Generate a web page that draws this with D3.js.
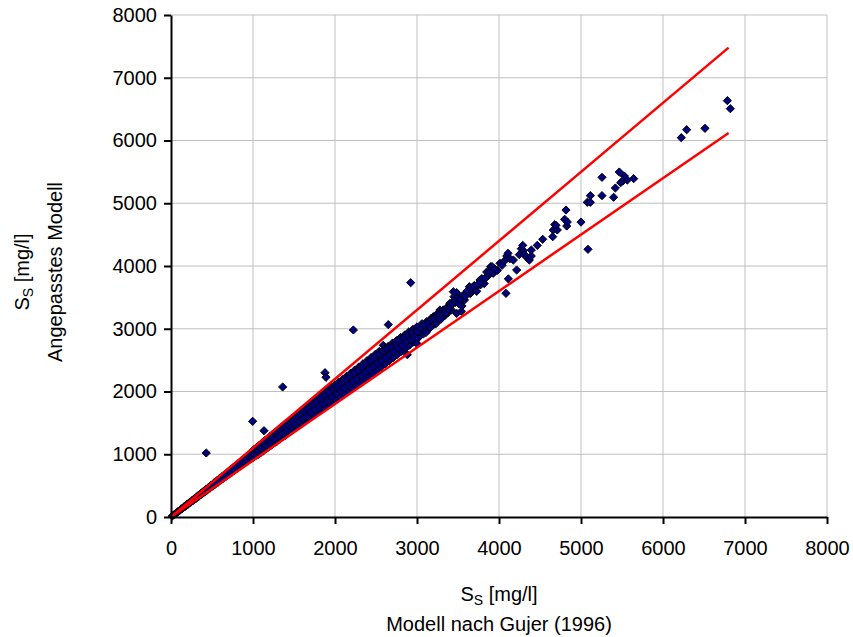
<!DOCTYPE html>
<html>
<head>
<meta charset="utf-8">
<script src="https://cdn.jsdelivr.net/npm/d3@7"></script>
<style>
  body { margin: 0; background: #fff; }
  text { font-family: "Liberation Sans", Arial, sans-serif; fill: #000; }
</style>
</head>
<body>
<script>

var width = 853;
var height = 637;

var ticks = [0, 1000, 2000, 3000, 4000, 5000, 6000, 7000, 8000];

// +/- 10 % bounds (Gujer x 1.1 and x 0.9)
var boundX = [0, 6800];
var upperBound = [0, 7480];
var lowerBound = [0, 6120];

// [Gujer (1996), angepasstes Modell] in mg/l
var pointsLow = [
  [15,14],[30,33],[45,43],[60,62],[75,72],[90,94],[110,106],[125,130],[140,137],[160,165],
  [175,170],[190,198],[210,204],[225,232],[240,233],[260,268],[275,266],[290,300],[300,305],[310,300],
  [325,336],[340,330],[360,372],[375,362],[390,404],[410,396],[425,440],[440,425],[460,476],[475,460],
  [490,508],[500,500],[510,492],[525,545],[540,522],[560,580],[575,555],[590,612],[610,588],[625,648],
  [640,618],[660,684],[675,650],[690,716],[700,702],[710,684],[725,752],[740,712],[760,790],[775,745],
  [790,822],[810,780],[825,858],[840,806],[850,852],[860,894],[875,840],[890,926],[910,875],[925,962],
  [940,902],[950,948],[960,998],[975,935],[990,1030],
  [520,520],[560,565],[600,600],[640,645],[680,680],[720,725],[760,760],[800,805],[840,840],[880,885],
  [920,915],[960,965]
];

var pointsMid = [
  [1000,945],[1010,1075],[1030,975],[1045,1110],[1050,1050],[1060,995],[1075,1140],[1090,1020],[1100,1100],[1110,1180],
  [1125,1050],[1140,1215],[1150,1150],[1160,1085],[1175,1250],[1190,1115],[1200,1205],[1210,1290],[1225,1145],[1240,1320],
  [1250,1245],[1260,1180],[1275,1355],[1290,1205],[1300,1305],[1310,1395],[1325,1240],[1340,1425],[1350,1350],[1360,1275],
  [1375,1465],[1390,1300],[1400,1400],[1410,1500],[1425,1335],[1440,1530],[1450,1445],[1460,1365],[1475,1570],[1490,1395],
  [1500,1500],[1510,1605],[1525,1425],[1540,1640],[1550,1555],[1560,1460],[1575,1675],[1590,1490],[1600,1595],[1615,1715],
  [1630,1525],[1645,1750],[1650,1640],[1665,1560],[1680,1785],[1700,1590],[1705,1700],[1720,1830],[1735,1625],[1750,1750],
  [1760,1870],[1775,1660],[1790,1900],[1800,1795],[1815,1700],[1830,1945],[1850,1845],[1855,1735],[1870,1985],[1890,1770],
  [1900,1900],[1915,2030],[1930,1805],[1950,1950],[1960,2080],[1975,1850],[1990,1990],
  [1020,1000],[1040,1060],[1065,1040],[1085,1105],[1115,1090],[1130,1160],[1165,1140],[1185,1215],[1215,1190],[1230,1265],
  [1265,1235],[1285,1320],[1315,1285],[1330,1370],[1365,1330],[1385,1425],[1415,1380],[1430,1475],[1465,1425],[1485,1530],
  [1515,1475],[1530,1580],[1565,1520],[1585,1635],[1610,1565],[1625,1680],[1660,1610],[1675,1730],[1710,1660],[1730,1785],
  [1760,1710],[1780,1835],[1810,1760],[1825,1880],[1860,1805],[1880,1935],[1910,1855],[1925,1985],[1960,1905],[1980,2040]
];

var pointsHigh = [
  [2000,2100],[2010,1870],[2025,2010],[2045,2150],[2060,1920],[2075,2060],[2090,2190],[2110,1970],[2125,2110],[2140,2240],
  [2160,2020],[2175,2160],[2190,2290],[2210,2060],[2225,2210],[2240,2340],[2260,2110],[2275,2260],[2290,2390],[2310,2160],
  [2325,2300],[2340,2440],[2360,2200],[2375,2350],[2390,2490],[2410,2250],[2425,2400],[2440,2540],[2460,2290],[2475,2450],
  [2490,2590],[2510,2340],[2525,2500],[2540,2640],[2560,2390],[2575,2550],[2589,2736],[2600,2680],[2610,2440],[2625,2590],
  [2650,2720],[2660,2490],[2675,2640],[2700,2770],[2710,2540],[2725,2690],[2750,2810],[2760,2590],[2775,2740],[2800,2860],
  [2810,2640],[2825,2790],[2850,2900],[2860,2690],[2882,2587],[2875,2830],[2900,2950],[2910,2740],[2925,2880],[2950,2990],
  [2960,2790],[2975,2920],[2996,2768],
  [2015,1970],[2035,2080],[2070,2010],[2085,2140],[2120,2060],[2135,2190],[2170,2110],[2185,2240],[2220,2160],[2235,2290],
  [2270,2210],[2285,2340],[2320,2250],[2335,2390],[2370,2300],[2385,2440],[2420,2350],[2435,2490],[2470,2400],[2485,2540],
  [2520,2450],[2535,2590],[2570,2490],[2585,2640],[2620,2540],[2635,2680],[2670,2590],[2690,2700],[2720,2640],[2740,2750],
  [2770,2690],[2790,2800],[2820,2730],[2840,2850],[2870,2780],[2890,2890],[2920,2830],[2940,2930],[2970,2860],[2990,2980]
];

var pointsUpper = [
  [3000,3030],[3020,2860],[3040,2950],[3060,3080],[3080,2920],[3100,3000],[3118,3113],[3130,2980],[3150,3070],[3170,3160],
  [3190,3050],[3199,3192],[3220,3110],[3240,3230],[3260,3140],[3280,3299],[3300,3190],[3320,3300],[3340,3210],[3360,3330],
  [3380,3260],[3402,3405],[3420,3300],[3443,3590],[3451,3511],[3470,3420],[3484,3575],[3484,3245],[3500,3440],[3520,3500],
  [3541,3278],[3549,3363],[3565,3511],[3580,3460],[3600,3560],[3626,3590],[3638,3670],[3650,3560],[3670,3620],[3687,3670],
  [3710,3640],[3728,3597],[3740,3700],[3768,3777],[3777,3702],[3800,3760],[3820,3720],[3850,3830],[3850,3904],[3870,3850],
  [3899,3989],[3915,3990],[3930,3884],[3960,3940],[3980,3930],
  [3010,2950],[3050,3010],[3090,3060],[3110,2940],[3140,3100],[3160,3020],[3180,3140],[3210,3170],[3230,3080],[3250,3200],
  [3270,3230],[3290,3150],[3310,3250],[3330,3280],[3350,3250],[3370,3340],[3390,3310],[3410,3360],[3430,3400],[3460,3450],
  [3490,3480],[3510,3400],[3530,3470],[3560,3530],[3590,3520],[3610,3600],[3660,3650],[3700,3690],[3750,3720],[3790,3800],
  [3830,3800],[3880,3900],[3940,3960]
];

var pointsSparse = [
  [4012,4043],[4037,4011],[4077,4095],[4085,3564],[4094,4159],[4110,4202],[4114,3795],[4134,4117],[4175,4095],[4215,3936],
  [4248,4181],[4272,4276],[4289,4329],[4297,4244],[4313,4181],[4338,4138],[4370,4095],[4394,4159],[4394,4255],[4467,4329],
  [4533,4425],[4655,4467],[4662,4574],[4711,4574],[4679,4659],[4695,4648],[4801,4744],[4817,4892],[4826,4637],[4833,4701],
  [5000,4700],[5077,5015],[5114,5015],[5114,5121],[5085,4266],[5256,5121],[5256,5413],[5398,5095],[5419,5243],[5467,5498],
  [5484,5328],[5516,5360],[5528,5434],[5565,5370],[5642,5392],[6223,6045],[6289,6172],[6512,6194],[6785,6635],[6821,6507]
];

var outliers = [
  [430,1020],[996,1525],[1134,1375],[1362,2072],[1878,2300],[1890,2226],[2224,2980],[2650,3065],[2923,3734]
];

var allPoints = pointsLow.concat(pointsMid, pointsHigh, pointsUpper, pointsSparse, outliers);

var svg = d3.select("body")
    .append("svg")
    .attr("width", width)
    .attr("height", height);

var x = d3.scaleLinear().domain([0, 8000]).range([171, 827]);
var y = d3.scaleLinear().domain([0, 8000]).range([517, 15]);

// grid
svg.append("g").selectAll("line.v")
  .data(ticks.slice(1))
  .enter().append("line")
    .attr("x1", function(d) { return x(d); })
    .attr("x2", function(d) { return x(d); })
    .attr("y1", y(0))
    .attr("y2", y(8000))
    .attr("stroke", "#c0c0c0")
    .attr("stroke-width", 1);

svg.append("g").selectAll("line.h")
  .data(ticks.slice(1))
  .enter().append("line")
    .attr("x1", x(0))
    .attr("x2", x(8000))
    .attr("y1", function(d) { return y(d); })
    .attr("y2", function(d) { return y(d); })
    .attr("stroke", "#c0c0c0")
    .attr("stroke-width", 1);

// points
var diamond = "M0,-4.1L4.1,0L0,4.1L-4.1,0Z";
svg.append("g").selectAll("path")
  .data(allPoints)
  .enter().append("path")
    .attr("d", diamond)
    .attr("transform", function(d) { return "translate(" + x(d[0]) + "," + y(d[1]) + ")"; })
    .attr("fill", "#000080")
    .attr("stroke", "#000")
    .attr("stroke-width", 1);

// bound lines
var line = d3.line()
  .x(function(d, i) { return x(boundX[i]); })
  .y(function(d) { return y(d); });

[upperBound, lowerBound].forEach(function(b) {
  svg.append("path")
    .attr("d", line(b))
    .attr("fill", "none")
    .attr("stroke", "#ff0000")
    .attr("stroke-width", 2.5);
});

// axes
var fmt = d3.format("d");
var yAxis = d3.axisLeft(y).tickValues(ticks).tickFormat(fmt).tickSize(7).tickSizeOuter(0).tickPadding(7);
var xAxis = d3.axisBottom(x).tickValues(ticks).tickFormat(fmt).tickSize(7).tickSizeOuter(0).tickPadding(17);

var gy = svg.append("g").attr("transform", "translate(" + x(0) + ",0)").call(yAxis);
var gx = svg.append("g").attr("transform", "translate(0," + y(0) + ")").call(xAxis);

[gx, gy].forEach(function(g) {
  g.selectAll("path, line").attr("stroke", "#000").attr("stroke-width", 2);
  g.selectAll("text").attr("font-size", "20px").attr("font-family", "Liberation Sans, Arial, sans-serif");
});

// axis titles
var xt = svg.append("text")
  .attr("x", 499)
  .attr("y", 601)
  .attr("text-anchor", "middle")
  .attr("font-size", "20px");
xt.append("tspan").text("S");
xt.append("tspan").attr("font-size", "14px").attr("dy", 4).text("S");
xt.append("tspan").attr("dy", -4).text(" [mg/l]");

svg.append("text")
  .attr("x", 499)
  .attr("y", 631)
  .attr("text-anchor", "middle")
  .attr("font-size", "20px")
  .text("Modell nach Gujer (1996)");

var yt = svg.append("text")
  .attr("transform", "translate(29,272) rotate(-90)")
  .attr("text-anchor", "middle")
  .attr("font-size", "20px");
yt.append("tspan").text("S");
yt.append("tspan").attr("font-size", "14px").attr("dy", 4).text("S");
yt.append("tspan").attr("dy", -4).text(" [mg/l]");

svg.append("text")
  .attr("transform", "translate(62,272) rotate(-90)")
  .attr("text-anchor", "middle")
  .attr("font-size", "20px")
  .text("Angepasstes Modell");

</script>
</body>
</html>
